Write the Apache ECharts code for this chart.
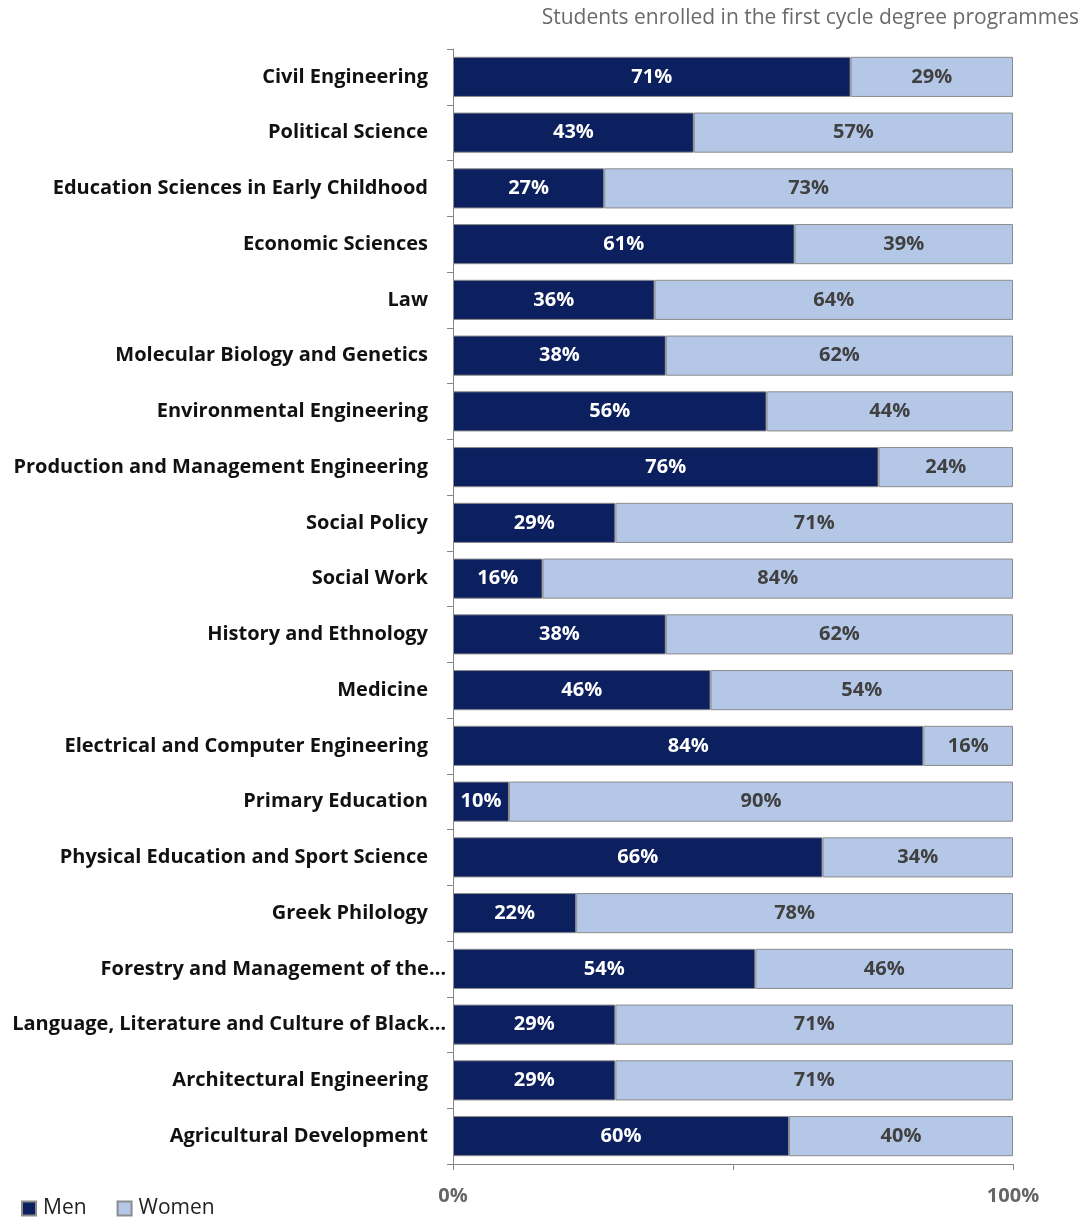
<!DOCTYPE html>
<html>
<head>
<meta charset="utf-8">
<script src="https://cdn.jsdelivr.net/npm/echarts@6/dist/echarts.min.js"></script>
<style>
  html, body { margin: 0; padding: 0; background: #ffffff; }
  #chart { width: 1091px; height: 1222px; }
</style>
</head>
<body>
<div id="chart"></div>
<script>
// Degree programmes, listed top to bottom
const programmes = [
  'Civil Engineering',
  'Political Science',
  'Education Sciences in Early Childhood',
  'Economic Sciences',
  'Law',
  'Molecular Biology and Genetics',
  'Environmental Engineering',
  'Production and Management Engineering',
  'Social Policy',
  'Social Work',
  'History and Ethnology',
  'Medicine',
  'Electrical and Computer Engineering',
  'Primary Education',
  'Physical Education and Sport Science',
  'Greek Philology',
  'Forestry and Management of the…',
  'Language, Literature and Culture of Black…',
  'Architectural Engineering',
  'Agricultural Development'
];

// Share of enrolled students (%)
const men   = [71, 43, 27, 61, 36, 38, 56, 76, 29, 16, 38, 46, 84, 10, 66, 22, 54, 29, 29, 60];
const women = [29, 57, 73, 39, 64, 62, 44, 24, 71, 84, 62, 54, 16, 90, 34, 78, 46, 71, 71, 40];

const xTickLabels = { 0: '0%', 100: '100%' };

const FONT = '"Open Sans", Lato, sans-serif';

// Shortened names sit closer to the axis
const categoryItems = programmes.map(name =>
  name.endsWith('…') ? { value: name, textStyle: { padding: [0, -18, 0, 0] } } : name
);

const chart = echarts.init(document.getElementById('chart'), null, { renderer: 'canvas' });

chart.setOption({
  backgroundColor: '#ffffff',
  animation: false,
  title: {
    text: 'Students enrolled in the first cycle degree programmes',
    right: 7,
    top: 3,
    textStyle: { fontFamily: FONT, fontSize: 21, fontWeight: 'normal', color: '#6a6a6a' }
  },
  legend: {
    left: 16,
    bottom: -2,
    itemWidth: 14,
    itemHeight: 14,
    itemGap: 30,
    icon: 'rect',
    textStyle: { fontFamily: FONT, fontSize: 21, color: '#222222', padding: [0, 0, 0, 2] },
    data: ['Men', 'Women']
  },
  grid: { left: 453, right: 78, top: 49, bottom: 58, containLabel: false, outerBoundsMode: 'none' },
  xAxis: {
    type: 'value',
    min: 0,
    max: 100,
    interval: 50,
    axisLine: { show: true, lineStyle: { color: '#868686', width: 1 } },
    axisTick: { show: true, length: 6, lineStyle: { color: '#868686' } },
    splitLine: { show: false },
    axisLabel: {
      formatter: v => xTickLabels[v] || '',
      margin: 22,
      fontFamily: FONT,
      fontSize: 20,
      fontWeight: 'bold',
      color: '#666666'
    }
  },
  yAxis: {
    type: 'category',
    inverse: true,
    data: categoryItems,
    axisLine: { show: true, lineStyle: { color: '#868686', width: 1 } },
    axisTick: { show: true, length: 6, lineStyle: { color: '#868686' } },
    axisLabel: {
      margin: 25,
      fontFamily: FONT,
      fontSize: 20,
      fontWeight: 'bold',
      color: '#111111'
    }
  },
  series: [
    {
      name: 'Men',
      type: 'bar',
      stack: 'share',
      data: men,
      barWidth: '72%',
      itemStyle: { color: '#0c1f5e', borderColor: '#8c8c8c', borderWidth: 1 },
      label: {
        show: true,
        position: 'inside',
        formatter: p => p.value + '%',
        fontFamily: FONT,
        fontSize: 20,
        fontWeight: 'bold',
        color: '#ffffff'
      }
    },
    {
      name: 'Women',
      type: 'bar',
      stack: 'share',
      data: women,
      barWidth: '72%',
      itemStyle: { color: '#b4c7e7', borderColor: '#8c8c8c', borderWidth: 1 },
      label: {
        show: true,
        position: 'inside',
        formatter: p => p.value + '%',
        fontFamily: FONT,
        fontSize: 20,
        fontWeight: 'bold',
        color: '#404040'
      }
    }
  ]
});
</script>
</body>
</html>
